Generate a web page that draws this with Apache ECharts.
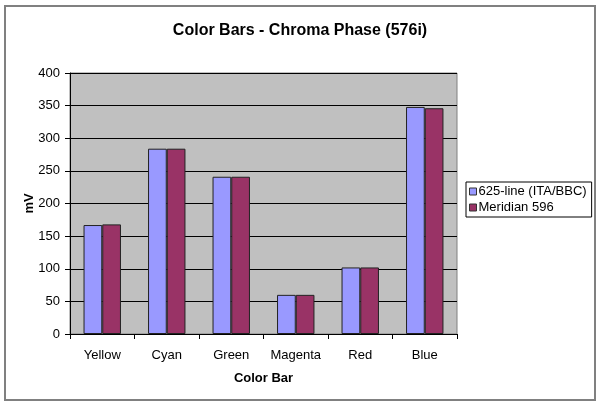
<!DOCTYPE html>
<html><head><meta charset="utf-8">
<script src="https://cdn.jsdelivr.net/npm/echarts@6/dist/echarts.min.js"></script>
<style>html,body{margin:0;padding:0;background:#fff}#c{width:600px;height:408px}</style>
</head><body><div id="c"></div>
<script>
var categories = ['Yellow','Cyan','Green','Magenta','Red','Blue'];
var seriesNames = ['625-line (ITA/BBC)','Meridian 596'];
var ita = [167, 284, 241, 60, 102, 348];
var meridian = [168, 284, 241, 60, 102, 346];
var yTicks = {min:0, max:400, interval:50};

var chart = echarts.init(document.getElementById('c'), null, {renderer:'canvas'});
var font = 'Liberation Sans, Arial, sans-serif';
chart.setOption({
  animation:false,
  backgroundColor:'#fff',
  title:{text:'Color Bars - Chroma Phase (576i)', left:'center', top:18,
    textStyle:{fontFamily:font,fontSize:16,fontWeight:'bold',color:'#000'}},
  graphic:[{type:'rect',shape:{x:5,y:6,width:590,height:394},
    style:{fill:null,stroke:'#808080',lineWidth:2},silent:true}],
  legend:{orient:'vertical', left:466, top:182,
    data:seriesNames, icon:'rect', itemWidth:7, itemHeight:7, itemGap:3,
    padding:[3,5,3,3], borderColor:'#000', borderWidth:1, backgroundColor:'#fff',
    itemStyle:{borderColor:'#333',borderWidth:1},
    textStyle:{fontFamily:font,fontSize:13,color:'#000',padding:[0,0,0,-3]}},
  grid:{left:70, top:73, right:143, bottom:74, show:true,
    backgroundColor:'#C0C0C0', borderColor:'#808080', borderWidth:1},
  xAxis:{type:'category', data:categories, name:'Color Bar', nameLocation:'middle', nameGap:38,
    nameTextStyle:{fontFamily:font,fontSize:13,fontWeight:'bold',color:'#000'},
    axisLine:{lineStyle:{color:'#000'}}, axisTick:{show:true,length:5,lineStyle:{color:'#000'}},
    axisLabel:{fontFamily:font,fontSize:13,color:'#000',margin:15,interval:0}},
  yAxis:{type:'value', min:yTicks.min, max:yTicks.max, interval:yTicks.interval,
    name:'mV', nameLocation:'middle', nameGap:34, nameMoveOverlap:false,
    nameTextStyle:{fontFamily:font,fontSize:13,fontWeight:'bold',color:'#000'},
    axisLine:{show:true,lineStyle:{color:'#000'}}, axisTick:{show:true,length:5,lineStyle:{color:'#000'}},
    axisLabel:{fontFamily:font,fontSize:13,color:'#000',margin:10},
    splitLine:{lineStyle:{color:'#000',width:1}}},
  series:[
    {name:seriesNames[0], type:'bar', data:ita, barGap:'0%', barCategoryGap:'42%',
     itemStyle:{color:'#9999FF', borderColor:'#222', borderWidth:1}},
    {name:seriesNames[1], type:'bar', data:meridian, barGap:'0%', barCategoryGap:'42%',
     itemStyle:{color:'#993366', borderColor:'#222', borderWidth:1}}
  ]
});
</script></body></html>
